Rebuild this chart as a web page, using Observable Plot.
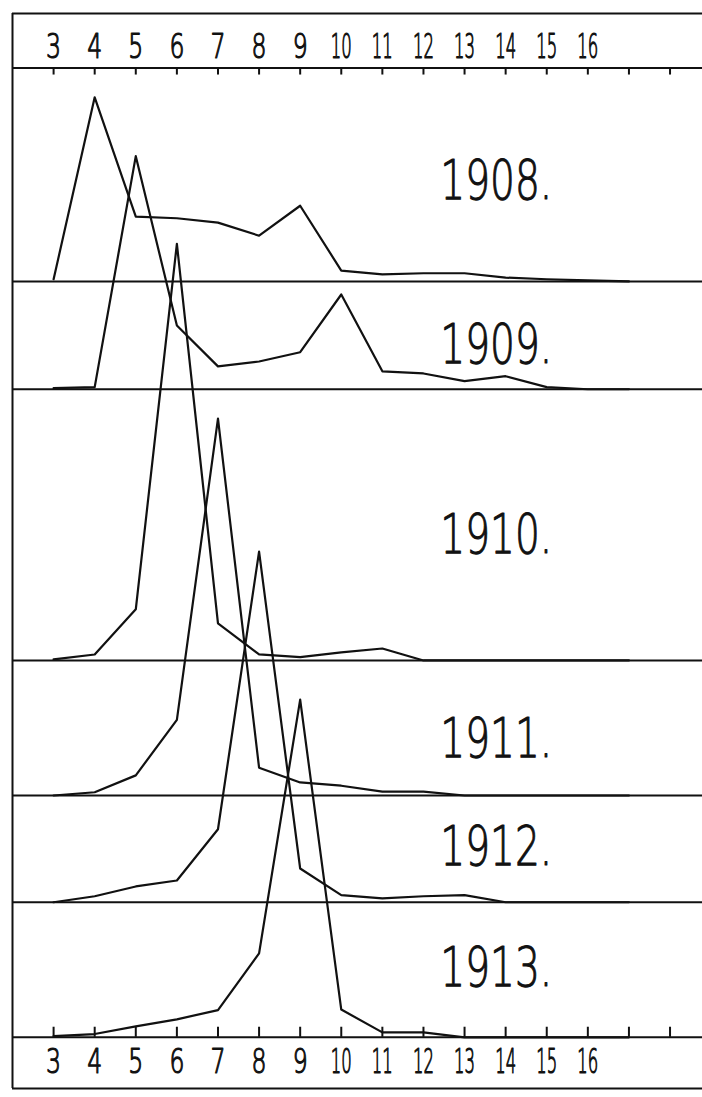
<!DOCTYPE html>
<html>
<head>
<meta charset="utf-8">
<script src="https://cdn.jsdelivr.net/npm/d3@7"></script>
<script src="https://cdn.jsdelivr.net/npm/@observablehq/plot@0.6"></script>
<style>
  html, body { margin: 0; padding: 0; background: #fff; }
  #chart svg { display: block; }
</style>
</head>
<body>
<div id="chart"></div>
<script>
// Age composition of the catch, one curve per year (percent of fish at each age)
const ages = [3, 4, 5, 6, 7, 8, 9, 10, 11, 12, 13, 14, 15, 16, 17];
const years = [1908, 1909, 1910, 1911, 1912, 1913];

const share1908 = [0.4, 33.8, 11.9, 11.6, 10.8, 8.4, 13.9, 2.0, 1.3, 1.5, 1.5, 0.7, 0.4, 0.2, 0];
const share1909 = [0.2, 0.4, 42.8, 11.7, 4.2, 5.1, 6.8, 17.4, 3.3, 2.9, 1.5, 2.4, 0.4, 0, 0];
const share1910 = [0.2, 1.1, 9.4, 76.5, 6.8, 1.1, 0.6, 1.5, 2.2, 0, 0, 0, 0, 0, 0];
const share1911 = [0, 0.6, 3.7, 13.9, 69.2, 5.1, 2.4, 1.8, 0.7, 0.7, 0, 0, 0, 0, 0];
const share1912 = [0, 1.1, 2.9, 4.0, 13.4, 64.4, 6.2, 1.3, 0.7, 1.1, 1.3, 0, 0, 0, 0];
const share1913 = [0.2, 0.6, 2.0, 3.3, 5.0, 15.4, 62.0, 5.1, 0.9, 0.9, 0, 0, 0, 0, 0];

// Age scale ticks and their labels
const tickAges = [3, 4, 5, 6, 7, 8, 9, 10, 11, 12, 13, 14, 15, 16, 17, 18];
const tickLabels = [3, 4, 5, 6, 7, 8, 9, 10, 11, 12, 13, 14, 15, 16];

// ---- layout (in y-scale units) ----
const baseline = {1908: 138.8, 1909: 119.0, 1910: 69.2, 1911: 44.4, 1912: 24.8, 1913: 0};
const labelLift = {1908: 15.2, 1909: 4.9, 1910: 19.8, 1911: 7.0, 1912: 6.9, 1913: 9.5};
const yTop = 178;            // upper age scale line
const yDomain = [-9.4, 188]; // outer box, bottom to top
const xDomain = [2, 18.79];
const labelAge = 12.41;

const shares = {1908: share1908, 1909: share1909, 1910: share1910,
                1911: share1911, 1912: share1912, 1913: share1913};
const rows = years.flatMap(year =>
  ages.map((age, i) => ({year, age, share: shares[year][i]})));

const font = "'DejaVu Sans', sans-serif";
const ink = "#111";

// small type, stretched tall afterwards to get narrow lettering
const ageLabel = {
  text: d => String(d), className: "age-label",
  fontSize: 22, fontWeight: 300, fontFamily: font, lineAnchor: "middle",
  fill: ink, stroke: ink, strokeWidth: 0.8
};

const chart = Plot.plot({
  width: 702,
  height: 1097,
  marginTop: 13,
  marginBottom: 9,
  marginLeft: 12,
  marginRight: 0,
  x: {domain: xDomain, axis: null},
  y: {domain: yDomain, axis: null},
  style: {background: "white", color: ink},
  marks: [
    // outer box: left, top and bottom edges
    Plot.ruleX([xDomain[0]], {stroke: ink, strokeWidth: 2}),
    Plot.ruleY(yDomain, {stroke: ink, strokeWidth: 2}),
    // upper age scale line with downward ticks
    Plot.ruleY([yTop], {stroke: ink, strokeWidth: 2}),
    Plot.ruleX(tickAges, {x: d => d, y1: yTop, y2: yTop - 1.3, stroke: ink, strokeWidth: 2}),
    // one baseline per year; the lowest doubles as the lower age scale
    Plot.ruleY(years, {y: d => baseline[d], stroke: ink, strokeWidth: 2}),
    Plot.ruleX(tickAges, {x: d => d, y1: 0, y2: 1.85, stroke: ink, strokeWidth: 2}),
    // age labels above and below
    Plot.text(tickLabels, {x: d => d, y: yTop + 3.8, ...ageLabel}),
    Plot.text(tickLabels, {x: d => d, y: -4.6, ...ageLabel}),
    // the age distributions, each lifted onto its own baseline
    Plot.line(rows, {x: "age", y: d => baseline[d.year] + d.share, z: "year",
      stroke: ink, strokeWidth: 2.2}),
    // year labels
    Plot.text(years, {x: labelAge, y: d => baseline[d] + labelLift[d], text: d => d + ".",
      className: "year-label", textAnchor: "start", lineAnchor: "bottom",
      fontSize: 56, fontWeight: 300, fontFamily: font, fill: ink, stroke: ink, strokeWidth: 1.1})
  ]
});

// narrow lettering: stretch the age labels tall and fit them to a fixed width
d3.select(chart).selectAll(".age-label text").each(function () {
  const n = this.textContent.length;
  const t = this.getAttribute("transform") || "";
  this.setAttribute("transform", t + " scale(1,1.55)");
  this.setAttribute("textLength", n === 1 ? 15 : 21);
  this.setAttribute("lengthAdjust", "spacingAndGlyphs");
});
d3.select(chart).selectAll(".year-label text").each(function () {
  this.setAttribute("textLength", 112);
  this.setAttribute("lengthAdjust", "spacingAndGlyphs");
});

document.getElementById("chart").append(chart);
</script>
</body>
</html>
